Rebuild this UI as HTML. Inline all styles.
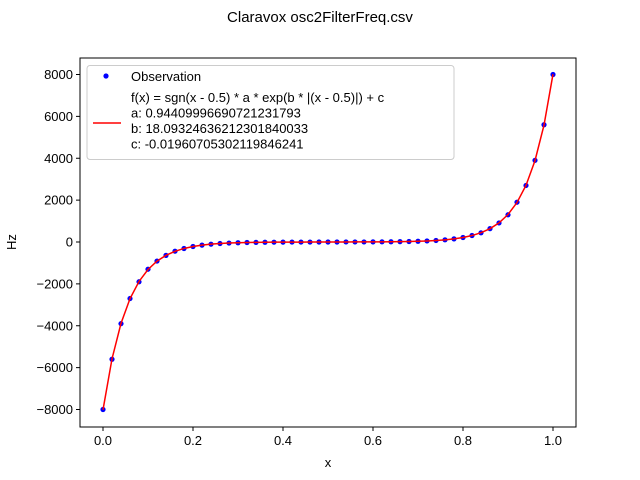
<!DOCTYPE html>
<html><head><meta charset="utf-8"><style>
body{margin:0;background:#fff;}
svg{display:block;font-family:"Liberation Sans","DejaVu Sans",sans-serif;}
</style></head><body>
<svg id="chart" width="640" height="480">
<text x="320" y="22" text-anchor="middle" font-size="15">Claravox osc2FilterFreq.csv</text>
<g id="plot"></g>
</svg>
<script>
const xValues = [0,0.02,0.04,0.06,0.08,0.1,0.12,0.14,0.16,0.18,0.2,0.22,0.24,0.26,0.28,0.3,0.32,0.34,0.36,0.38,0.4,0.42,0.44,0.46,0.48,0.5,0.52,0.54,0.56,0.58,0.6,0.62,0.64,0.66,0.68,0.7,0.72,0.74,0.76,0.78,0.8,0.82,0.84,0.86,0.88,0.9,0.92,0.94,0.96,0.98,1.0];
const observations = [-8000,-5600,-3900,-2700,-1900,-1300,-910,-640,-440,-310,-215,-150,-104,-73,-50,-35,-24,-17,-12,-8,-6,-4,-3,-2,-1,0,1,2,3,4,6,8,12,17,24,35,50,73,104,150,215,310,440,640,910,1300,1900,2700,3900,5600,8000];
const fitValues = [-8015,-5581,-3887,-2707,-1885,-1313,-914,-637,-443,-309,-215,-150,-104,-73,-50,-35,-24,-17,-12,-8,-6,-4,-3,-2,-1.4,0,1.4,2,3,4,6,8,12,17,24,35,50,73,104,150,215,309,443,637,914,1313,1885,2707,3887,5581,8015];
const xTicks = [0,0.2,0.4,0.6,0.8,1.0];
const xTickLabels = ["0.0","0.2","0.4","0.6","0.8","1.0"];
const yTicks = [-8000,-6000,-4000,-2000,0,2000,4000,6000,8000];

const L=80,R=576,T=58,B=427;
const sx=v=>103+v*450;
const sy=v=>242-v*(335/16000);
const NS="http://www.w3.org/2000/svg";
const g=document.getElementById('plot');
function mk(tag,attrs,parent){const e=document.createElementNS(NS,tag);for(const k in attrs)e.setAttribute(k,attrs[k]);(parent||g).appendChild(e);return e;}

const frame=mk('rect',{x:L,y:T,width:R-L,height:B-T,fill:'none',stroke:'#000','stroke-width':1});



xTicks.forEach((v,i)=>{
  const t=mk('line',{x1:sx(v),x2:sx(v),y1:B,y2:B+4,stroke:'#000'});
  
  
  const tx=mk('text',{x:sx(v),y:B+18,'text-anchor':'middle','font-size':13});
  tx.textContent=xTickLabels[i];
  
  
});
yTicks.forEach(v=>{
  const t=mk('line',{x1:L-4,x2:L,y1:sy(v),y2:sy(v),stroke:'#000'});
  
  
  const tx=mk('text',{x:L-7,y:sy(v)+4.5,'text-anchor':'end','font-size':13});
  tx.textContent=(v<0?'\u2212':'')+Math.abs(v);
  
  
});
const xl=mk('text',{x:328,y:467,'text-anchor':'middle','font-size':13});
xl.textContent='x';


const yl=mk('text',{x:16,y:242,'text-anchor':'middle','font-size':13,transform:'rotate(-90 16 242)'});
yl.textContent='Hz';



observations.forEach((v,i)=>{
  const c=mk('circle',{cx:sx(xValues[i]),cy:sy(v),r:2.6,fill:'#0000ff'});
  
  
});
const line=mk('polyline',{points:fitValues.map((v,i)=>sx(xValues[i])+','+sy(v)).join(' '),fill:'none',stroke:'#ff0000','stroke-width':1.5});



const lg=mk('g',{});


mk('rect',{x:87,y:65.5,width:367,height:94,rx:3,fill:'#fff','fill-opacity':0.8,stroke:'#ccc'},lg);
const ld=mk('circle',{cx:106,cy:76,r:2.6,fill:'#0000ff'},lg);


const lt=mk('text',{x:131,y:81,'font-size':13},lg);
lt.textContent='Observation';


const ll=mk('line',{x1:93,x2:121,y1:123,y2:123,stroke:'#ff0000','stroke-width':1.5},lg);


["f(x) = sgn(x - 0.5) * a * exp(b * |(x - 0.5)|) + c","a: 0.94409996690721231793","b: 18.09324636212301840033","c: -0.01960705302119846241"].forEach((s,i)=>{
  const t=mk('text',{x:131,y:102+i*15.5,'font-size':13},lg);
  t.textContent=s;
  
  
});
</script>
</body></html>
